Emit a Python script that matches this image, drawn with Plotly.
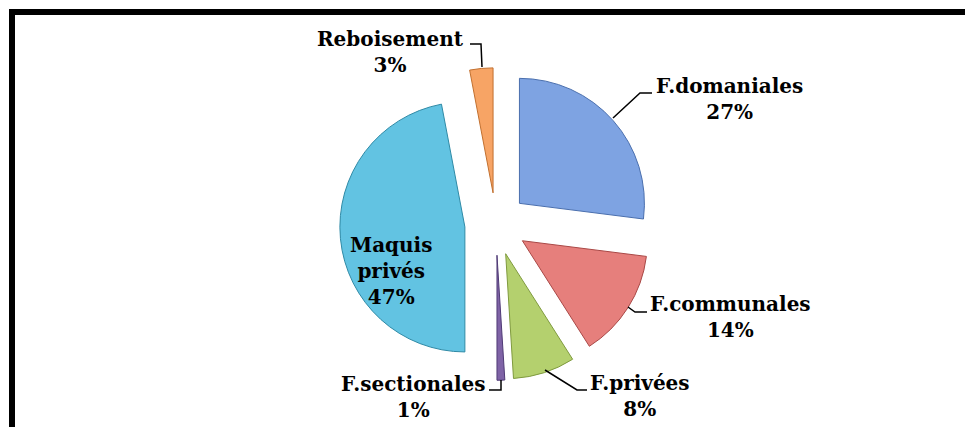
import plotly.graph_objects as go

W, H = 965, 427

# data
labels = ["F.domaniales", "F.communales", "F.privées", "F.sectionales", "Maquis privés", "Reboisement"]
values = [27, 14, 8, 1, 47, 3]
colors = ["#7ea3e2", "#e67f7c", "#b4d06e", "#7f63a6", "#62c3e2", "#f7a465"]
edges = ["#4a6fae", "#a94846", "#7f9a3e", "#4f3a75", "#2f8aa6", "#c2702f"]

# label placement (page pixels) and leader lines
label_pos = {
    "F.domaniales": (729, 99),
    "F.communales": (730, 317),
    "F.privées": (640, 396),
    "F.sectionales": (413, 397),
    "Maquis privés": (391, 271),
    "Reboisement": (390, 52),
}
leaders = [
    [(652, 93), (640, 93), (613, 118)],
    [(647, 312), (635, 312), (628, 307)],
    [(587, 390), (577, 390), (545, 370)],
    [(489, 390), (501, 390), (501, 380)],
    [(470, 44), (481, 44), (482, 67)],
]
# frame: only its top and left sides are inside the crop
frame = [(12, 440), (12, 12), (975, 12)]


def px(x, y):
    return x / W, 1 - y / H


def path_of(pts):
    return "M " + " L ".join(f"{px(a, b)[0]},{px(a, b)[1]}" for a, b in pts)


cx, cy, r, pull = 496, 224, 125, 0.25
half = r * (1 + pull)
x0, y0 = px(cx - half, cy + half)
x1, y1 = px(cx + half, cy - half)

fig = go.Figure(
    go.Pie(
        labels=labels,
        values=values,
        sort=False,
        direction="clockwise",
        rotation=0,
        pull=[pull] * len(values),
        marker=dict(colors=colors, line=dict(color=edges, width=1)),
        textinfo="none",
        hoverinfo="label+percent",
        domain=dict(x=[x0, x1], y=[y0, y1]),
        showlegend=False,
    )
)

font = dict(family="DejaVu Serif", size=20, color="black", weight="bold")
for lab, val in zip(labels, values):
    x, y = px(*label_pos[lab])
    text = f"{lab}<br>{val}%"
    if lab == "Maquis privés":
        text = f"Maquis<br>privés<br>{val}%"
    fig.add_annotation(x=x, y=y, xref="paper", yref="paper", text=text,
                       showarrow=False, font=font, xanchor="center", yanchor="middle")

for pts in leaders:
    fig.add_shape(type="path", path=path_of(pts), xref="paper", yref="paper",
                  line=dict(color="black", width=1.5))

fig.add_shape(type="path", path=path_of(frame), xref="paper", yref="paper",
              line=dict(color="black", width=6))

fig.update_layout(
    width=W,
    height=H,
    margin=dict(l=0, r=0, t=0, b=0),
    paper_bgcolor="white",
    plot_bgcolor="white",
)

fig.write_html(
    "out.html",
    config={"displayModeBar": False},
    post_script="document.body.style.margin='0';document.body.style.overflow='hidden';",
)
